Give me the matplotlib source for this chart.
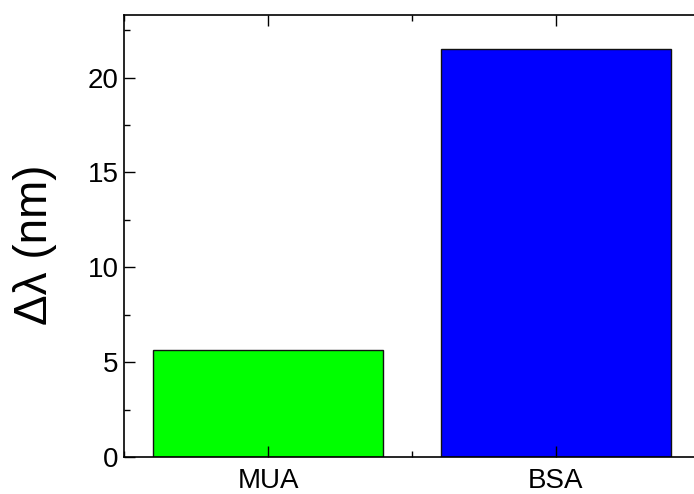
import matplotlib.pyplot as plt
from matplotlib.ticker import MultipleLocator

categories = ["MUA", "BSA"]
shifts = [5.64, 21.52]
colors = ["#00ff00", "#0000ff"]

plt.rcParams['font.family'] = ['Liberation Sans', 'DejaVu Sans']

fig = plt.figure(figsize=(6.94, 4.94), dpi=100)
# right edge of the frame sits just outside the picture
ax = fig.add_axes([124 / 694, (494 - 457) / 494, 576 / 694, (457 - 15.5) / 494])

pos = list(range(1, len(categories) + 1))
ax.bar(pos, shifts, width=0.8, color=colors, edgecolor="#111111", linewidth=1)

ax.set_xlim(0.5, 2.5)
ax.set_ylim(0, 23.27)
ax.set_xticks(pos)
ax.set_xticklabels(categories)
ax.xaxis.set_minor_locator(MultipleLocator(0.5))
ax.yaxis.set_major_locator(MultipleLocator(5))
ax.yaxis.set_minor_locator(MultipleLocator(2.5))
ax.tick_params(which="both", direction="in", top=True, right=False, labelsize=20, width=1)
ax.tick_params(which="major", length=8, pad=4)
ax.tick_params(which="minor", length=4)
ax.tick_params(axis="x", which="major", pad=8)
for s in ax.spines.values():
    s.set_linewidth(1.2)

ax.set_ylabel("Δλ (nm)", fontsize=33)
ax.yaxis.set_label_coords(-0.116, 0.48)

fig.savefig("out.png", dpi=100)
